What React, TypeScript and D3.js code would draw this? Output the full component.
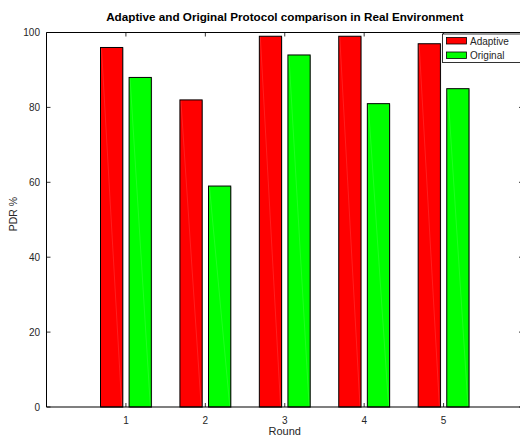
import React from "react";
import * as d3 from "d3";

const rounds = [1, 2, 3, 4, 5];
const adaptive = [96, 82, 99, 99, 97];
const original = [88, 59, 94, 81, 85];
const yTicks = [0, 20, 40, 60, 80, 100];
const seriesNames = ["Adaptive", "Original"];
const seriesColors = ["#ff0000", "#00ff00"];

export default function App() {
  const W = 520, H = 438;
  const left = 46.5, right = 523, top = 32.5, bottom = 407;
  const x = d3.scaleLinear().domain([0, 6]).range([left, right]);
  const y = d3.scaleLinear().domain([0, 100]).range([bottom, top]);
  const barW = 0.28;
  const offsets = [-0.32, 0.04];
  const series = [adaptive, original];
  const font = "'Liberation Sans', Arial, Helvetica, sans-serif";
  const tc = "#262626";
  return (
    <svg width={W} height={H} style={{ position: "absolute", left: 0, top: 0 }} fontFamily={font}>
      <rect x={0} y={0} width={W} height={H} fill="#fff" />
      {series.map((vals, si) =>
        vals.map((v, i) => {
          const x0 = x(rounds[i] + offsets[si]);
          const x1 = x(rounds[i] + offsets[si] + barW);
          const yt = y(v);
          return (
            <g key={`${si}-${i}`}>
              <rect x={x0 + 0.8} y={yt + 0.8} width={x1 - x0} height={bottom - yt} fill="#999" opacity={0.5} />
              <rect x={x0} y={yt} width={x1 - x0} height={bottom - yt} fill={seriesColors[si]} stroke="#000" strokeWidth={1} />
              <line x1={x0 + 1} y1={yt + 1} x2={x1 - 1} y2={bottom - 1} stroke="#fff" strokeOpacity={0.2} strokeWidth={0.6} />
            </g>
          );
        })
      )}
      {/* axes box */}
      <path d={`M${left},${bottom}V${top}H${right}`} fill="none" stroke="#000" strokeWidth={1} />
      <line x1={left} x2={right} y1={bottom} y2={bottom} stroke="#000" strokeWidth={1.2} />
      {rounds.map((r) => (
        <g key={r}>
          <line x1={x(r)} x2={x(r)} y1={bottom} y2={bottom - 4} stroke="#000" strokeWidth={0.8} />
          <line x1={x(r)} x2={x(r)} y1={top} y2={top + 4} stroke="#000" strokeWidth={0.8} />
          <text x={x(r)} y={424} fontSize={10} fill={tc} textAnchor="middle">{r}</text>
        </g>
      ))}
      {yTicks.map((t) => (
        <g key={t}>
          <line x1={left} x2={left + 4} y1={y(t)} y2={y(t)} stroke="#000" strokeWidth={0.8} />
          <line x1={right - 4} x2={right} y1={y(t)} y2={y(t)} stroke="#000" strokeWidth={0.8} />
          <text x={40} y={y(t) + 3.5} fontSize={10} fill={tc} textAnchor="end">{t}</text>
        </g>
      ))}
      <text x={(left + right) / 2} y={21} fontSize={11.7} fontWeight="bold" fill="#000" textAnchor="middle">
        Adaptive and Original Protocol comparison in Real Environment
      </text>
      <text x={(left + right) / 2} y={435} fontSize={11} fill={tc} textAnchor="middle">Round</text>
      <text transform={`translate(17,214) rotate(-90)`} fontSize={10.5} fill={tc} textAnchor="middle">PDR %</text>
      {/* legend */}
      <rect x={442.5} y={34} width={85} height={28.5} fill="#fff" stroke="#000" strokeWidth={0.8} />
      {seriesNames.map((n, i) => (
        <g key={n}>
          <rect x={446.5} y={37.5 + i * 14.5} width={20} height={6.5} fill={seriesColors[i]} stroke="#000" strokeWidth={0.8} />
          <text x={470} y={44.5 + i * 14.5} fontSize={10} fill={tc}>{n}</text>
        </g>
      ))}
    </svg>
  );
}
